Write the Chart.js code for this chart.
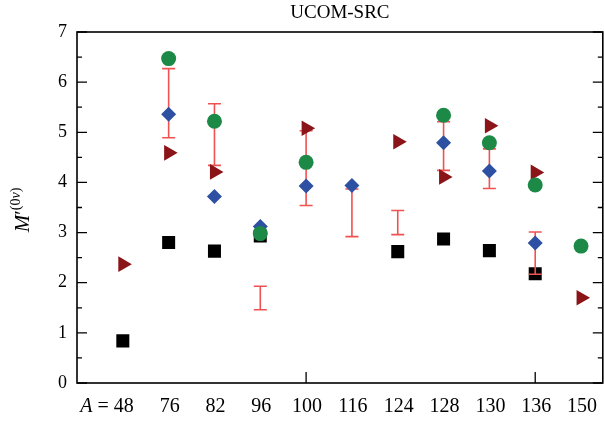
<!DOCTYPE html>
<html><head><meta charset="utf-8">
<script src="https://cdn.jsdelivr.net/npm/chart.js@4"></script>
<style>html,body{margin:0;padding:0;overflow:hidden;background:#fff}#wrap{width:612px;height:421px}</style>
</head><body><div id="wrap"><canvas id="c" width="612" height="421"></canvas></div>
<script>
const categories = ['48','76','82','96','100','116','124','128','130','136','150'];
const squares   = [0.84, 2.80, 2.63, 2.93, null, null, 2.62, 2.87, 2.64, 2.18, null];
const triangles = [2.37, 4.59, 4.21, null, 5.08, null, 4.81, 4.11, 5.13, 4.20, 1.70];
const diamonds  = [null, 5.36, 3.72, 3.12, 3.93, 3.94, null, 4.79, 4.23, 2.79, null];
const circles   = [null, 6.47, 5.22, 2.98, 4.40, null, null, 5.34, 4.79, 3.95, 2.73];
const errLow    = [null, 4.89, 4.34, 1.46, 3.54, 2.92, 2.96, 4.24, 3.88, 2.17, null];
const errHigh   = [null, 6.27, 5.57, 1.93, 5.03, 3.87, 3.44, 5.21, 4.67, 3.01, null];
const yTickValues = [0,1,2,3,4,5,6,7];
const xTickMarks = ['100','136'];
const titleText = 'UCOM-SRC';

const FONT = '"Liberation Serif", "Times New Roman", serif';
function pts(arr){ return arr.map((v,i)=>v==null?null:{x:i,y:v}).filter(p=>p); }

const decor = {
  id:'decor',
  afterDatasetDraw(chart, args){
    if (args.index !== 3) return;
    const ctx=chart.ctx, xs=chart.scales.x, ys=chart.scales.y;
    ctx.save(); ctx.strokeStyle='rgb(240,82,82)'; ctx.lineWidth=1.6;
    errLow.forEach((lo,i)=>{
      if(lo==null) return;
      const px=xs.getPixelForValue(i), y1=ys.getPixelForValue(lo), y2=ys.getPixelForValue(errHigh[i]);
      ctx.beginPath();
      ctx.moveTo(px,y1); ctx.lineTo(px,y2);
      ctx.moveTo(px-6.5,y1); ctx.lineTo(px+6.5,y1);
      ctx.moveTo(px-6.5,y2); ctx.lineTo(px+6.5,y2);
      ctx.stroke();
    });
    ctx.restore();
  },
  afterDraw(chart){
    const ctx=chart.ctx, a=chart.chartArea, xs=chart.scales.x, ys=chart.scales.y;
    ctx.save();
    ctx.strokeStyle='#000'; ctx.lineWidth=1.6;
    ctx.strokeRect(a.left, a.top, a.right-a.left, a.bottom-a.top);
    ctx.lineWidth=1.3;
    ctx.beginPath();
    yTickValues.forEach((v,k)=>{
      const py=ys.getPixelForValue(v);
      ctx.moveTo(a.left,py); ctx.lineTo(a.left+10,py);
      ctx.moveTo(a.right,py); ctx.lineTo(a.right-10,py);
      if(k<yTickValues.length-1){
        const pm=ys.getPixelForValue((v+yTickValues[k+1])/2);
        ctx.moveTo(a.left,pm); ctx.lineTo(a.left+5,pm);
        ctx.moveTo(a.right,pm); ctx.lineTo(a.right-5,pm);
      }
    });
    xTickMarks.forEach(c=>{
      const px=xs.getPixelForValue(categories.indexOf(c));
      ctx.moveTo(px,a.bottom); ctx.lineTo(px,a.bottom-11);
    });
    ctx.stroke();
    // x labels
    ctx.fillStyle='#000'; ctx.textBaseline='alphabetic';
    categories.forEach((c,i)=>{
      const px=xs.getPixelForValue(i);
      ctx.font='20px '+FONT; ctx.textAlign='center';
      ctx.fillText(c, px+1, 412);
      if(i===0){
        const w=ctx.measureText(c).width;
        ctx.textAlign='right';
        ctx.fillText('=', px+1-w/2-5, 412);
        const we=ctx.measureText('=').width;
        ctx.font='italic 20px '+FONT;
        ctx.fillText('A', px+1-w/2-5-we-5, 412);
      }
    });
    // title
    ctx.font='19px '+FONT; ctx.textAlign='center';
    ctx.fillText(titleText, (a.left+a.right)/2, 18);
    // y label
    ctx.translate(29, 210); ctx.rotate(-Math.PI/2);
    const parts=[['italic 21px '+FONT,'M',0],['21px '+FONT,'\u2032',0],['14px '+FONT,'(0',-9],['italic 14px '+FONT,'\u03BD',-9],['14px '+FONT,')',-9]];
    let total=0; parts.forEach(p=>{ctx.font=p[0]; total+=ctx.measureText(p[1]).width;});
    let cx=-total/2; ctx.textAlign='left';
    parts.forEach(p=>{ctx.font=p[0]; ctx.fillText(p[1],cx,p[2]); cx+=ctx.measureText(p[1]).width;});
    ctx.restore();
  }
};

new Chart(document.getElementById('c'), {
  type:'scatter',
  data:{ datasets:[
    {label:'circles', data:pts(circles), pointStyle:'circle', pointRadius:7.5, backgroundColor:'rgb(28,138,70)', borderWidth:0},
    {label:'diamonds', data:pts(diamonds), pointStyle:'rectRot', pointRadius:7.5, backgroundColor:'rgb(46,80,162)', borderWidth:0},
    {label:'triangles', data:pts(triangles), pointStyle:'triangle', rotation:90, pointRadius:9, backgroundColor:'rgb(138,20,24)', borderWidth:0},
    {label:'squares', data:pts(squares), pointStyle:'rect', pointRadius:9.2, backgroundColor:'#000', borderWidth:0}
  ]},
  options:{
    responsive:false, animation:false, devicePixelRatio:1, events:[],
    layout:{padding:{top:32,right:6,left:0,bottom:0}},
    plugins:{legend:{display:false}, tooltip:{enabled:false}, title:{display:false}},
    scales:{
      x:{type:'linear', min:-1, max:10.475, ticks:{display:false}, grid:{display:false}, border:{display:false},
         afterFit(s){ s.height=38; }},
      y:{min:0, max:7, ticks:{stepSize:1, color:'#000', font:{family:FONT, size:18}, padding:10},
         grid:{display:false, drawTicks:false}, border:{display:false},
         afterFit(s){ s.width=77; }}
    }
  },
  plugins:[decor]
});
</script></body></html>
